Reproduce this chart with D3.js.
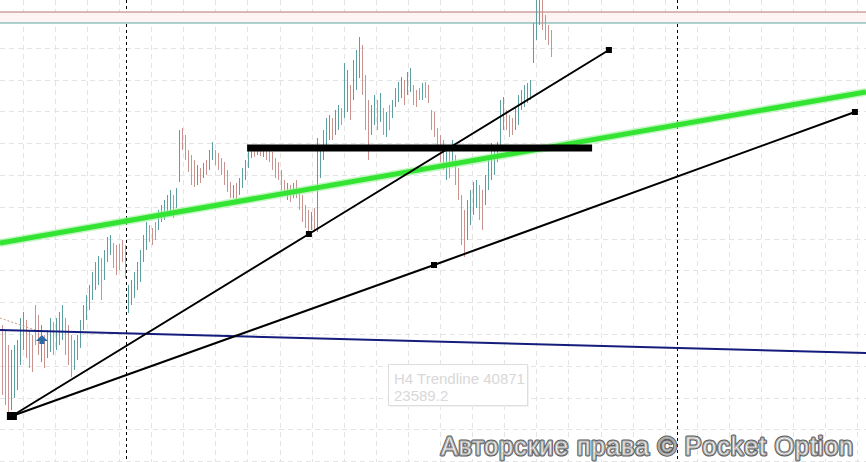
<!DOCTYPE html>
<meta charset="UTF-8">
<style>
body { margin: 0; background: #fff; }
svg { display: block; }
.grid { stroke: #e4e4e4; stroke-width: 1px; stroke-dasharray: 5,4; }
.sep { stroke: #000; stroke-width: 1px; stroke-dasharray: 3,3; }
.trend { fill: none; stroke: #000; stroke-width: 2px; }
</style>
<body>
<script src="https://d3js.org/d3.v7.min.js"></script>
<script>

// bar highs / lows (price), one bar per H4 candle
var highs = [23375,23370,23355,23350,23355,23360,23382,23388,23380,23370,
  23365,23395,23385,23375,23365,23370,23382,23378,23382,23388,
  23395,23382,23375,23365,23360,23365,23380,23395,23405,23415,
  23428,23438,23444,23442,23450,23463,23465,23457,23455,23456,
  23460,23455,23415,23420,23428,23438,23450,23465,23478,23475,
  23472,23478,23490,23495,23500,23505,23510,23505,23512,23570,
  23572,23565,23550,23545,23540,23535,23532,23537,23540,23550,
  23558,23550,23547,23542,23538,23530,23518,23515,23517,23522,
  23532,23540,23553,23554,23553,23555,23554,23553,23554,23552,
  23548,23542,23538,23530,23520,23517,23515,23517,23520,23510,
  23505,23495,23490,23488,23492,23562,23555,23570,23582,23585,
  23582,23590,23595,23592,23637,23630,23615,23640,23650,23663,
  23655,23625,23600,23595,23605,23600,23607,23592,23588,23595,
  23600,23612,23618,23623,23620,23628,23632,23615,23610,23612,
  23617,23618,23615,23590,23588,23572,23565,23560,23555,23550,
  23560,23545,23532,23505,23490,23500,23510,23518,23520,23515,
  23510,23525,23540,23557,23550,23558,23600,23603,23590,23585,
  23582,23593,23605,23610,23615,23617,23620,23677,23712,23712,
  23708,23685,23675,23670];
var lows = [23305,23295,23288,23290,23302,23310,23335,23350,23342,23332,
  23328,23355,23345,23338,23332,23342,23348,23345,23350,23355,
  23360,23345,23335,23323,23330,23340,23352,23370,23380,23390,
  23400,23410,23415,23400,23420,23438,23445,23432,23425,23430,
  23438,23422,23387,23395,23402,23410,23418,23438,23450,23458,
  23455,23460,23470,23478,23480,23485,23488,23482,23492,23518,
  23550,23540,23528,23515,23513,23515,23517,23522,23525,23530,
  23540,23535,23530,23525,23515,23508,23502,23502,23500,23505,
  23512,23520,23532,23542,23543,23545,23544,23543,23540,23538,
  23530,23522,23520,23510,23505,23500,23498,23502,23502,23490,
  23478,23472,23467,23470,23468,23468,23522,23540,23555,23560,
  23560,23565,23570,23575,23582,23588,23580,23600,23610,23622,
  23605,23570,23540,23565,23575,23570,23578,23565,23563,23570,
  23582,23593,23598,23602,23595,23605,23608,23595,23593,23600,
  23600,23602,23597,23570,23563,23552,23538,23530,23520,23522,
  23535,23515,23500,23455,23443,23460,23475,23485,23492,23480,
  23470,23495,23510,23520,23525,23538,23555,23570,23570,23563,
  23565,23570,23575,23590,23593,23597,23600,23637,23660,23675,
  23670,23660,23655,23643];
// u = rising bar, d = falling bar
var dirs = ("ddduuuuudd" + "ddduduuduu" + "uddduuuuuu" + "uuuduuuddd" +
  "dduuuuuuud" + "dduuuuuduu" + "dddddududu" + "uddddddudu" +
  "uuuudududd" + "dddddududd" + "ddduduuuuu" + "duuduuduuu" +
  "ddduududud" + "uuuuduuddd" + "udddddddud" + "udddduuuud" +
  "duuuuuuudd" + "duuuuuuuuu" + "dddd").split("");

// drawn objects, points as [bar index, price]
var support1 = [[3.3, 23284], [102.3, 23466], [202.3, 23650]];
var support2 = [[3.3, 23284], [144, 23435], [284.3, 23588]];
var greenLine = [[-0.7, 23457], [288, 23608]];
var navyLine = [[-0.7, 23370], [288, 23347]];
var levelLine = [[81.7, 23552], [196.7, 23552]];
var dottedLine = [[-0.7, 23382], [11, 23370]];
var askLevel = 23688, bidLevel = 23677;
var separators = [41.3, 225];
var arrowPoint = [13.3, 23360];
var tipLines = ["H4 Trendline 40871", "23589.2"];
var watermark = "Авторские права © Pocket Option";

var width = 866, height = 462;

var svg = d3.select("body").append("svg")
    .attr("width", width)
    .attr("height", height);

var x = d3.scaleLinear().domain([0, 288]).range([2, 866]);
var y = d3.scaleLinear().domain([23700, 23238]).range([0, 462]);

var line = d3.line()
    .x(function(d) { return x(d[0]); })
    .y(function(d) { return y(d[1]); });

// grid
svg.selectAll("line.gy")
  .data(d3.range(23684, 23230, -31.8))
  .enter().append("line")
    .attr("class", "grid")
    .attr("x1", 0).attr("x2", width)
    .attr("y1", function(d) { return Math.round(y(d)) + 0.5; })
    .attr("y2", function(d) { return Math.round(y(d)) + 0.5; });

svg.selectAll("line.gx")
  .data(d3.range(6.9, 290, 10.7))
  .enter().append("line")
    .attr("class", "grid")
    .attr("y1", 0).attr("y2", height)
    .attr("x1", function(d) { return Math.round(x(d)) + 0.5; })
    .attr("x2", function(d) { return Math.round(x(d)) + 0.5; });

// day separators
svg.selectAll("line.sep")
  .data(separators)
  .enter().append("line")
    .attr("class", "sep")
    .attr("y1", 0).attr("y2", height)
    .attr("x1", function(d) { return Math.round(x(d)) + 0.5; })
    .attr("x2", function(d) { return Math.round(x(d)) + 0.5; });

// ask / bid lines
svg.append("rect")
    .attr("x", 0).attr("width", width)
    .attr("y", y(askLevel)).attr("height", y(bidLevel) - y(askLevel))
    .style("fill", "#fdf4f4");
svg.append("line")
    .attr("x1", 0).attr("x2", width)
    .attr("y1", y(askLevel)).attr("y2", y(askLevel))
    .style("stroke", "#b97676").style("stroke-width", 1);
svg.append("line")
    .attr("x1", 0).attr("x2", width)
    .attr("y1", y(bidLevel)).attr("y2", y(bidLevel))
    .style("stroke", "#5fa3a5").style("stroke-width", 1);

// bars
svg.selectAll("line.bar")
  .data(highs)
  .enter().append("line")
    .attr("class", "bar")
    .attr("x1", function(d, i) { return Math.round(x(i)) + 0.5; })
    .attr("x2", function(d, i) { return Math.round(x(i)) + 0.5; })
    .attr("y1", function(d) { return y(d); })
    .attr("y2", function(d, i) { return y(lows[i]); })
    .style("stroke", function(d, i) { return dirs[i] === "u" ? "#5c9fa1" : "#c9938f"; })
    .style("stroke-width", 1);

svg.append("path")
    .attr("d", line(dottedLine))
    .style("fill", "none").style("stroke", "#c79a8a")
    .style("stroke-width", 1).style("stroke-dasharray", "2,2");

// navy trendline
svg.append("path")
    .attr("d", line(navyLine))
    .style("fill", "none").style("stroke", "#141c7c").style("stroke-width", 2);

// green trendline with glow
svg.append("path")
    .attr("d", line(greenLine))
    .style("fill", "none").style("stroke", "#9cf09c").style("stroke-width", 8)
    .style("opacity", 0.6);
svg.append("path")
    .attr("d", line(greenLine))
    .style("fill", "none").style("stroke", "#33e433").style("stroke-width", 5);

// black level
svg.append("path")
    .attr("d", line(levelLine))
    .style("fill", "none").style("stroke", "#000").style("stroke-width", 7);

// supports
[support1, support2].forEach(function(pts) {
  svg.append("path").attr("class", "trend").attr("d", line(pts));
  svg.selectAll(null)
    .data(pts.slice(1))
    .enter().append("rect")
      .attr("x", function(d) { return x(d[0]) - 3; })
      .attr("y", function(d) { return y(d[1]) - 3; })
      .attr("width", 6).attr("height", 6)
      .style("fill", "#000");
});
svg.append("rect")
    .attr("x", x(support1[0][0]) - 5).attr("y", y(support1[0][1]) - 4)
    .attr("width", 10).attr("height", 8)
    .style("fill", "#000");

// buy arrow
svg.append("path")
    .attr("transform", "translate(" + x(arrowPoint[0]) + "," + y(arrowPoint[1]) + ")")
    .attr("d", "M0,-5 L6,1 L2.5,1 L2.5,4 L-2.5,4 L-2.5,1 L-6,1 Z")
    .style("fill", "#2b6aa6");

// tooltip
var tip = svg.append("g").attr("transform", "translate(388,364)");
tip.append("rect")
    .attr("x", 2).attr("y", 2).attr("width", 139).attr("height", 41)
    .style("fill", "#f2f2f2");
tip.append("rect")
    .attr("x", 0.5).attr("y", 0.5).attr("width", 139).attr("height", 41)
    .style("fill", "#fff").style("stroke", "#dedede");
tip.selectAll("text")
  .data(tipLines)
  .enter().append("text")
    .attr("x", 6)
    .attr("y", function(d, i) { return 20 + i * 17; })
    .style("font", "15px 'Liberation Sans', Arial, sans-serif")
    .style("fill", "#d8d8d8")
    .text(function(d) { return d; });

// watermark
svg.append("text")
    .attr("x", 441).attr("y", 455)
    .attr("textLength", 412)
    .style("font", "25px 'Liberation Sans', Arial, sans-serif")
    .style("fill", "#fff").style("stroke", "#5c5c5c")
    .style("stroke-width", 3).style("stroke-linejoin", "round")
    .text(watermark);
svg.append("text")
    .attr("x", 441).attr("y", 455)
    .attr("textLength", 412)
    .style("font", "25px 'Liberation Sans', Arial, sans-serif")
    .style("fill", "#fff").style("stroke", "#a8a8a8")
    .style("stroke-width", 1)
    .text(watermark);

</script>
</body>
